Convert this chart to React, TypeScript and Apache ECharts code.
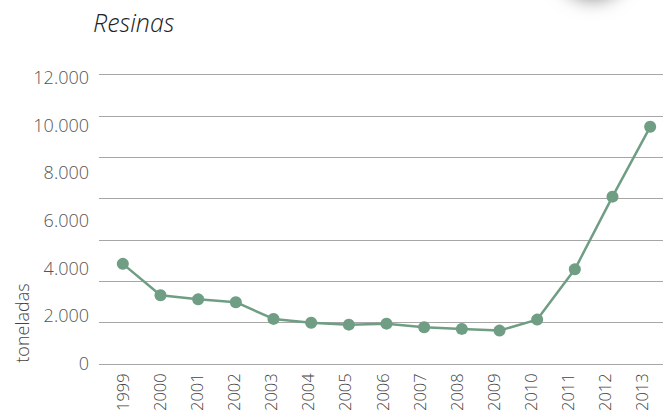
import React, { useEffect, useRef } from "react";
import * as echarts from "echarts";

const years = ["1999","2000","2001","2002","2003","2004","2005","2006","2007","2008","2009","2010","2011","2012","2013"];
const tonnes = [4160, 2840, 2670, 2550, 1850, 1690, 1610, 1650, 1500, 1430, 1360, 1820, 3930, 6980, 9910];
const gridTicks = [0, 2000, 4000, 6000, 8000, 10000, 12000, 14000];
const titleText = "Resinas";
const unitText = "toneladas";

const FONT = "'Open Sans', Lato, sans-serif";

export default function App() {
  const ref = useRef<HTMLDivElement>(null);
  useEffect(() => {
    document.body.style.margin = "0";
    const chart = echarts.init(ref.current!, undefined, { renderer: "svg" });
    chart.setOption({
      animation: false,
      backgroundColor: "#ffffff",
      title: {
        text: titleText,
        left: 88,
        top: 4,
        textStyle: { fontFamily: FONT, fontStyle: "italic", fontWeight: 300, fontSize: 25, color: "#222222" },
      },
      graphic: [
        {
          type: "circle",
          shape: { cx: 593, cy: -40, r: 34 },
          style: { fill: "#ffffff", shadowBlur: 20, shadowColor: "rgba(0,0,0,0.55)", shadowOffsetY: 4 },
          silent: true,
        },
        {
          type: "text",
          x: 22,
          y: 323,
          rotation: Math.PI / 2,
          style: { text: unitText, fontFamily: FONT, fontWeight: 300, fontSize: 18, fill: "#444444", align: "center", verticalAlign: "middle" },
        },
      ],
      grid: [
        { left: 99, right: 7, top: 74.5, height: 289.5 },
        { left: 104, right: 1, top: 77, height: 286 },
        { left: 104, right: 10, top: 77, height: 287 },
      ],
      xAxis: [
        { type: "category", gridIndex: 0, data: years, show: false },
        { type: "category", gridIndex: 1, data: years, show: false, boundaryGap: true },
        {
          type: "category",
          gridIndex: 2,
          data: years,
          boundaryGap: true,
          axisLine: { show: false },
          axisTick: { show: false },
          axisLabel: { rotate: 90, margin: 11, fontFamily: FONT, fontWeight: 300, fontSize: 16.5, color: "#444444" },
        },
      ],
      yAxis: [
        {
          type: "value",
          gridIndex: 0,
          min: gridTicks[0],
          max: gridTicks[gridTicks.length - 1],
          interval: 2000,
          axisLabel: { show: false },
          axisLine: { show: false },
          axisTick: { show: false },
          splitLine: { show: true, lineStyle: { color: "#a6a6a6", width: 1 } },
        },
        {
          type: "value",
          gridIndex: 1,
          min: 0,
          max: 12000,
          interval: 2000,
          axisLine: { show: false },
          axisTick: { show: false },
          splitLine: { show: false },
          axisLabel: {
            margin: 15,
            fontFamily: FONT,
            fontWeight: 300,
            fontSize: 18,
            color: "#555555",
            formatter: (v: number) => (v === 0 ? "0" : v.toLocaleString("de-DE")),
          },
        },
        { type: "value", gridIndex: 2, show: false, min: 0, max: 1 },
      ],
      series: [
        {
          type: "line",
          xAxisIndex: 1,
          yAxisIndex: 1,
          data: tonnes,
          symbol: "circle",
          symbolSize: 12,
          lineStyle: { color: "#6f9e84", width: 2.5 },
          itemStyle: { color: "#6f9e84" },
          z: 5,
        },
      ],
    });
    return () => chart.dispose();
  }, []);
  return <div ref={ref} style={{ position: "fixed", left: 0, top: 0, width: 670, height: 414 }} />;
}
